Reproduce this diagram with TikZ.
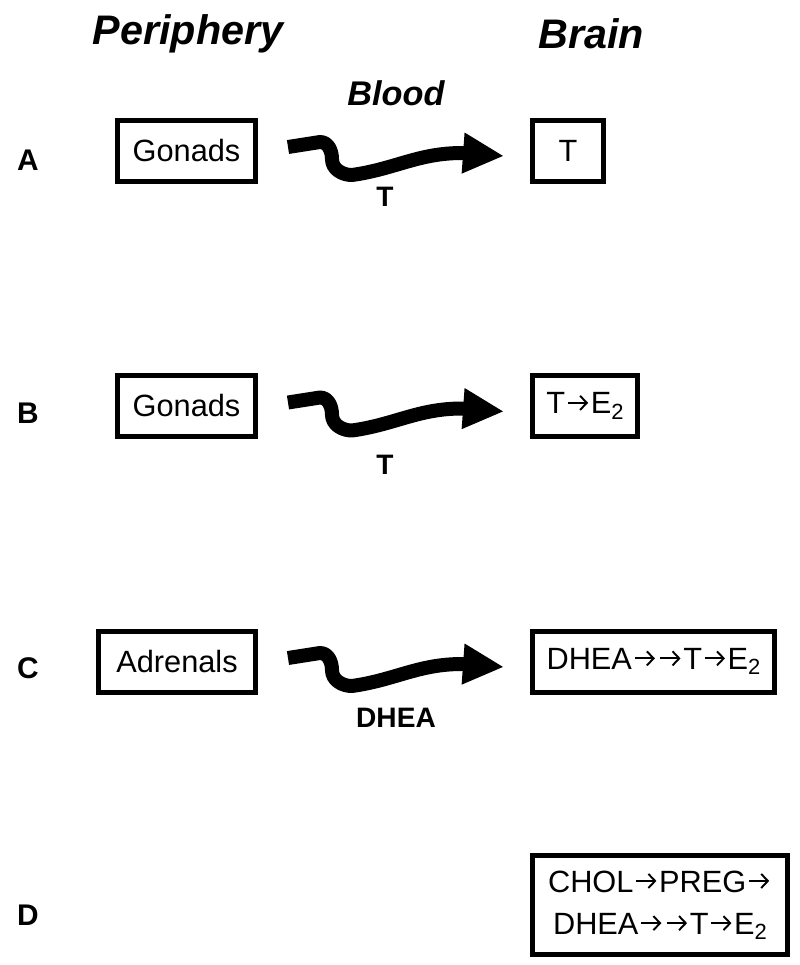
\documentclass[tikz,border=0pt]{standalone}
\usepackage{fontspec}
\setmainfont{Liberation Sans}
\usetikzlibrary{arrows.meta}

% small arrow between steroids
\newcommand\ra{\kern1pt\tikz[baseline=0pt, x=1pt, y=1pt]
  \draw[line width=1.1pt, -{Straight Barb[length=3.8pt,width=8pt]}] (0,6.3) -- (11.5,6.3);\kern1pt}
% subscript two
\newcommand\two{\raisebox{-3pt}{\fontsize{12.5}{14}\selectfont 2}}

\tikzset{
  organ/.style={draw, line width=0.1cm, minimum height=1.22cm, inner sep=0pt,
    font=\fontsize{17.5}{24}\selectfont},
  blood/.style={line width=0.28cm, line join=round,
    -{Triangle[length=0.82cm,width=0.76cm]}},
  heading/.style={font=\fontsize{23.5}{28}\selectfont\bfseries\itshape},
  rowlabel/.style={font=\fontsize{17}{20}\selectfont\bfseries},
  hormone/.style={font=\fontsize{16}{19}\selectfont\bfseries}
}

\begin{document}
\begin{tikzpicture}[x=0.02cm, y=0.02cm]

        \useasboundingbox (0,0) rectangle (800,-965);

        % headings
        \node[heading] (periph) at (188,-34) {Periphery};
        \node[heading] (brain) at (591,-34) {Brain};
        \node[heading, font=\fontsize{19.5}{24}\selectfont\bfseries\itshape] (blood) at (396,-93) {Blood};

        % rows
        \node[rowlabel] (la) at (28,-160) {A};
        \node[rowlabel] (lb) at (28,-413) {B};
        \node[rowlabel] (lc) at (28,-668) {C};
        \node[rowlabel] (ld) at (28,-915) {D};

        % periphery side
        \node[organ, minimum width=2.76cm] (gonA) at (186.5,-150.5) {Gonads};
        \node[organ, minimum width=2.76cm] (gonB) at (186.5,-406) {Gonads};
        \node[organ, minimum width=3.14cm] (adrC) at (177,-661.5) {Adrenals};

        % brain side
        \node[organ, minimum width=1.42cm] (tA) at (568,-151) {T};
        \node[organ, minimum width=2.1cm] (teB) at (585,-406) {T\ra E\two};
        \node[organ, minimum width=4.84cm] (dheaC) at (653.5,-661.5) {DHEA\ra\ra T\ra E\two};
        \node[organ, minimum width=5.1cm, minimum height=1.98cm, align=center] (cholD) at (660,-905)
             {CHOL\ra PREG\ra\\DHEA\ra\ra T\ra E\two};

        % start of each blood arrow
        \coordinate (sA) at ([shift={(30,3.5)}]gonA.east);
        \coordinate (sB) at ([shift={(30,3.5)}]gonB.east);
        \coordinate (sC) at ([shift={(30,3.5)}]adrC.east);

        % blood arrows
        \draw[blood] (sA) -- ++(32,5) to[out=0,in=90] ++(12,-17) to[out=-90,in=180] ++(20,-16)
             to[out=8,in=180] ++(110,22) -- ++(42,-3);
        \draw[blood] (sB) -- ++(32,5) to[out=0,in=90] ++(12,-17) to[out=-90,in=180] ++(20,-16)
             to[out=8,in=180] ++(110,22) -- ++(42,-3);
        \draw[blood] (sC) -- ++(32,5) to[out=0,in=90] ++(12,-17) to[out=-90,in=180] ++(20,-16)
             to[out=8,in=180] ++(110,22) -- ++(42,-3);

        % what the blood carries
        \node[hormone] (hA) at (385,-197) {T};
        \node[hormone] (hB) at (385,-465) {T};
        \node[hormone] (hC) at (396,-718) {DHEA};

\end{tikzpicture}
\end{document}
